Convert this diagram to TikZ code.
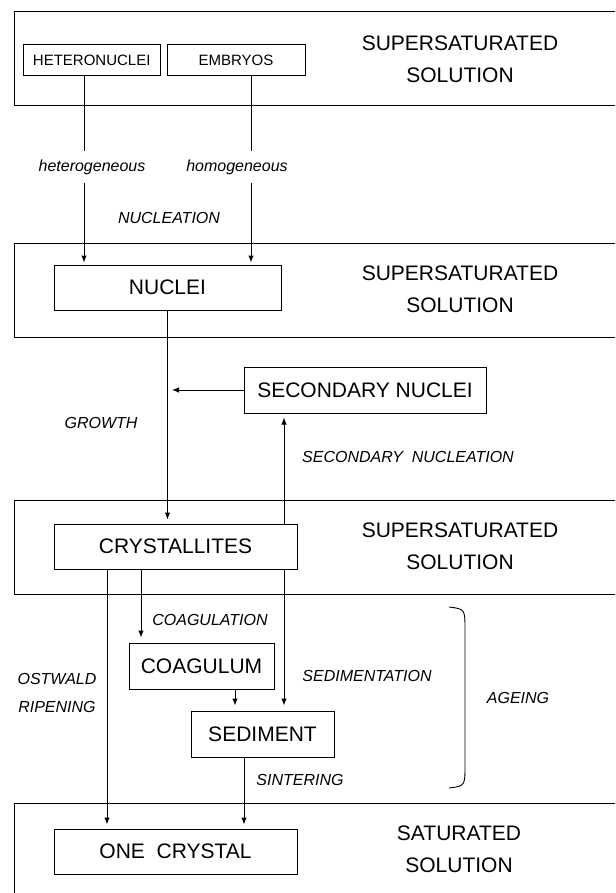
\documentclass[tikz,border=0pt]{standalone}
\usepackage{fontspec}
\setmainfont{Liberation Sans}
\usetikzlibrary{arrows.meta}
\begin{document}
\begin{tikzpicture}[x=1pt, y=-1pt, line width=1pt,
                        box/.style  = {draw, inner sep=0pt, font=\fontsize{21}{25}\selectfont},
                        sbox/.style = {draw, inner sep=0pt, minimum height=31pt, font=\fontsize{15}{18}\selectfont},
                        soln/.style = {align=center, font=\fontsize{21}{32}\selectfont},
                        proc/.style = {align=center, font=\fontsize{16}{28}\selectfont\itshape},
                        arr/.style  = {-{Latex[length=7pt,width=5.5pt]}}]
        \clip (0,0) rectangle (615,893);
        % solution bands
        \draw (14,12) rectangle (640,106);
        \draw (14,243) rectangle (640,337);
        \draw (14,500) rectangle (640,594);
        \draw (14,803) rectangle (640,920);
        \node [soln] (S1) at (460,59) {SUPERSATURATED\\SOLUTION};
        \node [soln] (S2) at (460,289) {SUPERSATURATED\\SOLUTION};
        \node [soln] (S3) at (460,546) {SUPERSATURATED\\SOLUTION};
        \node [soln] (S4) at (459,849.5) {SATURATED\\SOLUTION};

        \node [sbox, minimum width=136.5pt] (HN) at (91.75,60.5) {HETERONUCLEI};
        \node [sbox, minimum width=138pt] (EM) at (236,60.5) {EMBRYOS};
        \node [box, minimum width=227pt, minimum height=45pt] (NU) at (167.5,287.5) {NUCLEI};
        \node [box, minimum width=242pt, minimum height=46pt] (SN) at (365,390) {SECONDARY NUCLEI};
        \node [box, minimum width=243pt, minimum height=45pt] (CR) at (175.5,546.5) {CRYSTALLITES};
        \node [box, minimum width=145pt, minimum height=46pt] (CO) at (201.5,666) {COAGULUM};
        \node [box, minimum width=143pt, minimum height=46pt] (SE) at (262.5,734) {SEDIMENT};
        \node [box, minimum width=243pt, minimum height=45pt] (OC) at (175.5,851.5) {ONE\ \ CRYSTAL};

        \draw [arr, shorten >=2pt] ([xshift=-7.75pt]HN.south) -- ([xshift=-7.75pt]HN.south |- NU.north);
        \draw [arr, shorten >=2pt] ([xshift=15pt]EM.south) -- ([xshift=15pt]EM.south |- NU.north);
        \node [proc, fill=white, minimum height=32pt, inner ysep=0pt] (L1) at (92,167) {heterogeneous};
        \node [proc, fill=white, minimum height=32pt, inner ysep=0pt] (L2) at (237,167) {homogeneous};
        \node [proc] (L3) at (169,218) {NUCLEATION};

        \draw [arr, shorten >=4pt] (NU.south) -- (NU.south |- CR.north);
        \draw [arr, shorten >=4.5pt] (SN.west) -- (SN.west -| NU.south);
        \draw [arr, shorten >=4pt] ([xshift=108.5pt]CR.north) -- ([xshift=108.5pt]CR.north |- SN.south);
        \node [proc] (L4) at (101,423) {GROWTH};
        \node [proc] (L5) at (408,457) {SECONDARY\ \ NUCLEATION};

        \draw [arr, shorten >=4pt] ([xshift=-68.5pt]CR.south) -- ([xshift=-68.5pt]CR.south |- OC.north);
        \draw [arr, shorten >=5pt] ([xshift=-34.5pt]CR.south) -- ([xshift=-34.5pt]CR.south |- CO.north);
        \draw [arr, shorten >=5pt] ([xshift=108.5pt]CR.south) -- ([xshift=108.5pt]CR.south |- SE.north);
        \draw [arr, shorten >=5pt] ([xshift=33.5pt]CO.south) -- ([xshift=33.5pt]CO.south |- SE.north);
        \draw [arr, shorten >=4pt] ([xshift=-18.5pt]SE.south) -- ([xshift=-18.5pt]SE.south |- OC.north);
        \node [proc] (L6) at (210,620) {COAGULATION};
        \node [proc] (L7) at (367,676) {SEDIMENTATION};
        \node [proc] (L8) at (57,693) {OSTWALD\\RIPENING};
        \node [proc] (L9) at (300,780) {SINTERING};

        % ageing bracket
        \draw [line width=0.9pt] (449,607) .. controls (465,609) .. (465,630) -- (465,765) .. controls (465,786) .. (449,788);
        \node [proc] (L10) at (518,698) {AGEING};
        \end{tikzpicture}
\end{document}
